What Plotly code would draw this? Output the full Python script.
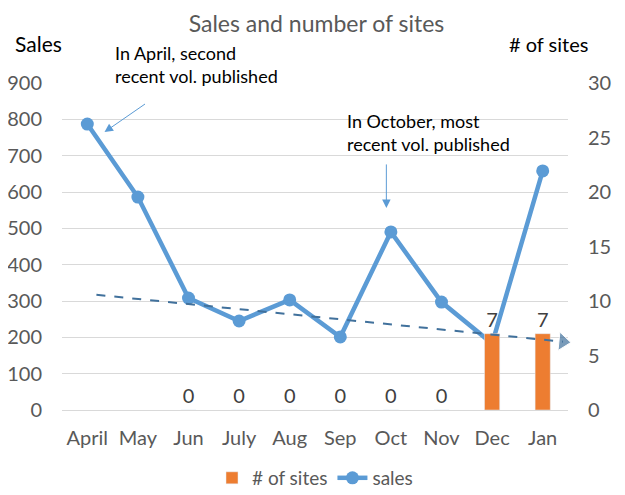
import plotly.graph_objects as go

months = ["April", "May", "Jun", "July", "Aug", "Sep", "Oct", "Nov", "Dec", "Jan"]
sales = [787, 586, 308, 245, 303, 201, 490, 297, 183, 658]
sites = [None, None, 0, 0, 0, 0, 0, 0, 7, 7]
trend_x = [0.18, 9.4]
trend_y = [317, 188]
left_ticks = [0, 100, 200, 300, 400, 500, 600, 700, 800, 900]
right_ticks = [0, 5, 10, 15, 20, 25, 30]

FONT = "Lato"
BLUE = "#5B9BD5"
ORANGE = "#ED7D31"
GREY = "#595959"

fig = go.Figure()
fig.add_trace(go.Bar(
    x=months, y=sites, name="# of sites", marker_color=ORANGE, width=0.3,
    yaxis="y2", text=[("" if v is None else str(v)) for v in sites],
    textposition="outside", textfont=dict(color="#404040", size=20, family=FONT),
    cliponaxis=False,
))
fig.add_trace(go.Scatter(
    x=months, y=sales, name="sales", mode="lines+markers",
    line=dict(color=BLUE, width=4.5), marker=dict(size=13, color=BLUE),
))
fig.add_trace(go.Scatter(
    x=trend_x, y=trend_y, mode="lines+markers", showlegend=False, xaxis="x2",
    line=dict(color="#41719C", width=2, dash="dash"),
    marker=dict(size=[0, 16], symbol="triangle-up", angleref="previous", color="#41719C"),
    cliponaxis=False, hoverinfo="skip",
))

fig.update_layout(
    width=617, height=487,
    margin=dict(l=54, r=57, t=75, b=85),
    plot_bgcolor="white", paper_bgcolor="white",
    font=dict(family=FONT, color=GREY, size=19),
    title=dict(text="Sales and number of sites", x=0.5, xanchor="center", y=0.968, yanchor="middle",
               font=dict(size=23, color=GREY, family=FONT)),
    showlegend=True,
    legend=dict(orientation="h", x=0.5, xanchor="center", yref="container", y=0.035,
                yanchor="middle", font=dict(size=19, color=GREY, family=FONT)),
    xaxis=dict(type="category", range=[-0.5, 9.5], showgrid=False, showline=True,
               linecolor="#D9D9D9", linewidth=1, ticks="", ticklabelstandoff=10,
               tickfont=dict(size=20, color=GREY), automargin=False),
    xaxis2=dict(range=[-0.5, 9.5], overlaying="x", visible=False, automargin=False),
    yaxis=dict(range=[0, 900], tickvals=left_ticks, showgrid=True, gridcolor="#D9D9D9",
               zeroline=False, ticks="", ticklabelstandoff=19, tickfont=dict(size=20, color=GREY),
               automargin=False),
    yaxis2=dict(range=[0, 30], tickvals=right_ticks, overlaying="y", side="right",
                showgrid=False, zeroline=False, ticks="", ticklabelstandoff=19,
                tickfont=dict(size=20, color=GREY), automargin=False),
)

fig.add_annotation(text="Sales", xref="paper", yref="paper", x=-0.097, y=1.12,
                   xanchor="left", yanchor="middle", showarrow=False,
                   font=dict(size=21, color="black", family=FONT))
fig.add_annotation(text="# of sites", xref="paper", yref="paper", x=1.043, y=1.12,
                   xanchor="right", yanchor="middle", showarrow=False,
                   font=dict(size=20, color="black", family=FONT))

fig.add_annotation(text="In April, second<br>recent vol. published", xref="paper", yref="paper",
                   x=0.101, y=1.13, xanchor="left", yanchor="top", align="left",
                   showarrow=False, font=dict(size=18, color="black", family=FONT))
fig.add_annotation(xref="x2", yref="y", x=0.34, y=765, ax=1.17, ay=845, axref="x2", ayref="y",
                   text="", showarrow=True, arrowhead=2, arrowsize=1.7, arrowwidth=1,
                   arrowcolor=BLUE)
fig.add_annotation(xref="x2", yref="y", x=5.91, y=556, ax=5.91, ay=680, axref="x2", ayref="y",
                   text="", showarrow=True, arrowhead=2, arrowsize=1.7, arrowwidth=1,
                   arrowcolor=BLUE)
fig.add_annotation(text="In October, most<br>recent vol. published", xref="x2", yref="y",
                   x=5.1, y=765, xanchor="left", yanchor="middle", align="left",
                   showarrow=False, font=dict(size=18, color="black", family=FONT))

fig.write_html("out.html")
